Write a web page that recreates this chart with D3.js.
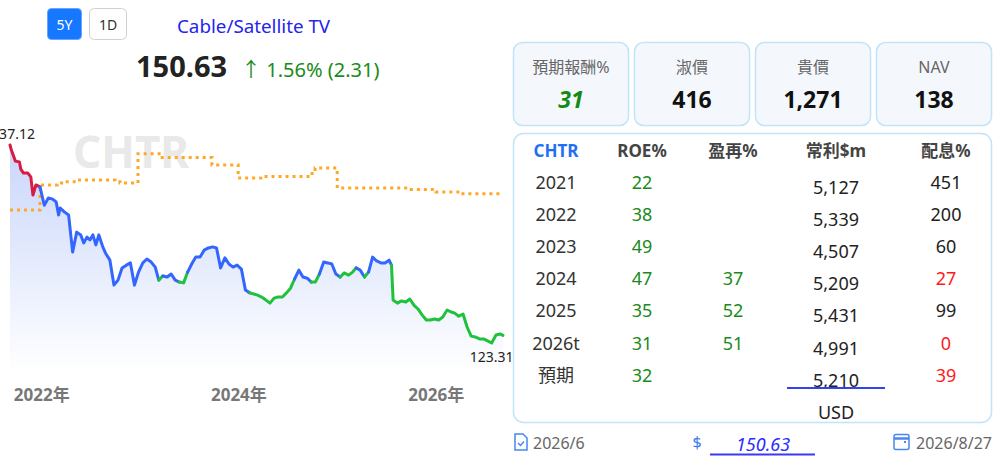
<!DOCTYPE html>
<html>
<head>
<meta charset="utf-8">
<script src="https://cdn.jsdelivr.net/npm/d3@7"></script>
<style>
  body { margin: 0; background: #fff; }
  svg text { font-family: "Noto Sans", "Noto Sans CJK TC", sans-serif; }
</style>
</head>
<body>
<div id="chart"></div>
<script>
// price history (5Y)
var priceDates = ["2021-08-27","2021-09-01","2021-09-16","2021-10-01","2021-10-06","2021-10-16","2021-11-01","2021-11-12","2021-11-20","2021-12-01","2021-12-16",
  "2022-01-01","2022-01-16","2022-02-01","2022-02-14","2022-02-23","2022-03-01","2022-03-16","2022-04-01","2022-04-16","2022-05-01","2022-05-16",
  "2022-05-27","2022-06-08","2022-06-19","2022-06-30","2022-07-11","2022-07-22","2022-08-06","2022-08-16","2022-09-01","2022-09-16","2022-10-01","2022-10-16",
  "2022-11-01","2022-11-16","2022-12-01","2022-12-16","2023-01-01","2023-01-16","2023-02-01","2023-02-16","2023-03-01","2023-03-16",
  "2023-04-01","2023-04-16","2023-05-01","2023-05-16","2023-06-01","2023-06-16","2023-07-01","2023-07-16","2023-08-01","2023-08-16",
  "2023-09-01","2023-09-16","2023-10-01","2023-10-16","2023-11-01","2023-11-16","2023-12-01","2023-12-16","2024-01-01","2024-01-16",
  "2024-02-01","2024-02-16","2024-03-01","2024-03-16","2024-04-01","2024-04-16","2024-05-01","2024-05-16","2024-06-01","2024-06-16",
  "2024-07-01","2024-07-16","2024-08-01","2024-08-16","2024-09-01","2024-09-16","2024-10-01","2024-10-16","2024-11-01","2024-11-16",
  "2024-12-01","2024-12-16","2025-01-01","2025-01-16","2025-02-01","2025-02-16","2025-03-01","2025-03-16","2025-04-01","2025-04-16",
  "2025-05-01","2025-05-16","2025-06-01","2025-06-16","2025-07-01","2025-07-10","2025-07-16","2025-08-01","2025-08-16","2025-09-01",
  "2025-09-16","2025-10-01","2025-10-16","2025-11-01","2025-11-16","2025-12-01","2025-12-16","2026-01-01","2026-01-16","2026-02-01",
  "2026-02-16","2026-03-01","2026-03-16","2026-04-01","2026-04-16","2026-05-01","2026-05-16","2026-06-01","2026-06-16","2026-07-01",
  "2026-07-16","2026-08-01","2026-08-16","2026-08-27"];
var priceValues = [837.12,819,779,776,750,736,736,722,657,693,686,
  620,646,642,632,585,610,596,585,451,523,513,
  484,505,495,513,477,513,469,447,422,332,350,394,
  404,412,332,379,412,426,415,397,350,365,
  361,372,350,343,340,379,408,433,433,458,
  466,470,466,394,430,408,397,404,390,314,
  304,300,296,289,278,267,285,289,289,304,
  321,354,386,361,357,343,343,372,415,412,
  408,372,361,376,368,379,394,386,361,379,
  433,419,412,412,422,404,278,267,275,271,
  282,260,246,224,206,206,210,206,217,242,
  235,231,220,228,181,148,145,138,138,131,
  123.31,152,156,150.63];

// line colour spans [from, to) : up = above value line, low = cheap zone
var spanFrom = ["2021-08-27","2023-03-01","2023-05-16","2024-02-01","2024-09-16","2025-01-01","2025-04-01","2025-07-10"];
var spanTo   = ["2021-12-16","2023-03-16","2023-06-16","2024-07-16","2024-10-16","2025-03-01","2025-04-16","2026-08-28"];
var spanKind = ["up","low","low","low","low","low","low","low"];

// dotted value line (steps)
var fairDates = ["2021-08-27","2021-12-16","2022-02-18","2022-03-14","2022-05-05","2022-09-20","2022-10-08","2022-12-14","2023-03-08",
  "2023-09-14","2023-12-20","2024-03-13","2024-09-19","2024-09-30","2024-12-21","2025-09-21","2025-12-22","2026-03-24","2026-08-27"];
var fairValues = [603,693,700,705,711,705,700,806,792,765,718,724,743,754,682,677,668,661,661];

var axisYears = ["2022-01-01","2024-01-01","2026-01-01"];

// panel data
var statLabels = ["預期報酬%","淑價","貴價","NAV"];
var statValues = ["31","416","1,271","138"];
var tableHead = ["CHTR","ROE%","盈再%","常利$m","配息%"];
var tableYears = ["2021","2022","2023","2024","2025","2026t","預期"];
var roeValues = [22,38,49,47,35,31,32];
var reinvestValues = [null,null,null,37,52,51,null];
var profitValues = [5127,5339,4507,5209,5431,4991,5210];
var payoutValues = [451,200,60,27,99,0,39];

var parse = d3.timeParse("%Y-%m-%d");
var data = priceDates.map(function (d, i) { return { date: parse(d), value: priceValues[i] }; });
var fair = fairDates.map(function (d, i) { return { date: parse(d), value: fairValues[i] }; });

var colors = { up: "#d81b45", mid: "#3366ff", low: "#1fc23c" };
function kindOf(date) {
  for (var i = 0; i < spanFrom.length; i++) {
    if (date >= parse(spanFrom[i]) && date < parse(spanTo[i])) return spanKind[i];
  }
  return "mid";
}

var svg = d3.select("#chart").append("svg")
  .attr("width", 1002).attr("height", 462);

// ---- header
svg.append("rect").attr("x", 47.5).attr("y", 8.5).attr("width", 34).attr("height", 31).attr("rx", 4)
  .attr("fill", "#1677ff").attr("stroke", "#6aa2ff");
svg.append("text").attr("x", 64.5).attr("y", 29.5).attr("text-anchor", "middle")
  .attr("font-size", 14).attr("fill", "#fff").text("5Y");
svg.append("rect").attr("x", 89.5).attr("y", 8.5).attr("width", 37).attr("height", 31).attr("rx", 5)
  .attr("fill", "#fff").attr("stroke", "#d0d0d0");
svg.append("text").attr("x", 108).attr("y", 29.5).attr("text-anchor", "middle")
  .attr("font-size", 14).attr("fill", "#333").text("1D");
svg.append("text").attr("x", 177).attr("y", 33).attr("font-size", 18.8).attr("fill", "#2424f0")
  .text("Cable/Satellite TV");
svg.append("text").attr("x", 136).attr("y", 77).attr("font-size", 29).attr("font-weight", "bold")
  .attr("fill", "#222").text("150.63");
svg.append("text").attr("x", 241).attr("y", 77).attr("font-size", 20).attr("fill", "#1a8a1a")
  .text("↑ 1.56% (2.31)");

// ---- price chart
var x = d3.scaleTime().domain([parse("2021-08-27"), parse("2026-08-27")]).range([10, 503]);
var y = d3.scaleLinear().domain([123.31, 837.12]).range([343, 145]);
var base = 372;

var defs = svg.append("defs");
var grad = defs.append("linearGradient").attr("id", "fillGrad")
  .attr("gradientUnits", "userSpaceOnUse").attr("x1", 0).attr("x2", 0).attr("y1", 145).attr("y2", base);
grad.append("stop").attr("offset", "0%").attr("stop-color", "#c9d6fb");
grad.append("stop").attr("offset", "100%").attr("stop-color", "#ffffff");

svg.append("text").attr("x", 73).attr("y", 168).attr("font-size", 44).attr("font-weight", "bold")
  .attr("fill", "#e9e9e9").text("CHTR");

svg.append("path").datum(data)
  .attr("fill", "url(#fillGrad)")
  .attr("d", d3.area().x(function (d) { return x(d.date); }).y0(base).y1(function (d) { return y(d.value); }));

svg.append("path").datum(fair)
  .attr("fill", "none").attr("stroke", "#ffa726").attr("stroke-width", 3).attr("stroke-dasharray", "3 4")
  .attr("d", d3.line().curve(d3.curveStepAfter).x(function (d) { return x(d.date); }).y(function (d) { return y(d.value); }));

// split into runs of the same colour
var runs = [];
for (var i = 0; i < data.length - 1; i++) {
  var k = kindOf(data[i].date);
  if (!runs.length || runs[runs.length - 1].kind !== k) runs.push({ kind: k, pts: [data[i]] });
  runs[runs.length - 1].pts.push(data[i + 1]);
}
var line = d3.line().x(function (d) { return x(d.date); }).y(function (d) { return y(d.value); });
svg.append("g").selectAll("path").data(runs).enter().append("path")
  .attr("fill", "none")
  .attr("stroke", function (d) { return colors[d.kind]; })
  .attr("stroke-width", 3).attr("stroke-linejoin", "round").attr("stroke-linecap", "round")
  .attr("d", function (d) { return line(d.pts); });

var maxPt = data[d3.maxIndex(data, function (d) { return d.value; })];
var minPt = data[d3.minIndex(data, function (d) { return d.value; })];
svg.append("text").attr("x", x(maxPt.date) + 3).attr("y", 139).attr("text-anchor", "middle")
  .attr("font-size", 14).attr("fill", "#222").text(d3.format(".2f")(maxPt.value));
svg.append("text").attr("x", x(minPt.date)).attr("y", 362).attr("text-anchor", "middle")
  .attr("font-size", 14).attr("fill", "#222").text(d3.format(".2f")(minPt.value));

var xAxis = svg.append("g").attr("transform", "translate(0,388)")
  .call(d3.axisBottom(x).tickValues(axisYears.map(parse)).tickSize(0).tickFormat(d3.timeFormat("%Y年")));
xAxis.select(".domain").remove();
xAxis.selectAll("text").attr("font-family", null).attr("font-size", 17).attr("font-weight", "bold")
  .attr("fill", "#777").attr("y", 13).attr("dy", 0).attr("dx", -3);

// ---- stat cards
var cardX = [513, 634, 755, 876];
var cards = svg.append("g").selectAll("g").data(statLabels).enter().append("g")
  .attr("transform", function (d, i) { return "translate(" + cardX[i] + ",42)"; });
cards.append("rect").attr("x", 0.5).attr("y", 0.5).attr("width", 115).attr("height", 83).attr("rx", 9)
  .attr("fill", "#f4f8fd").attr("stroke", "#c2e4f8").attr("stroke-width", 1.5);
cards.append("text").attr("x", 58).attr("y", 31).attr("text-anchor", "middle")
  .attr("font-size", 16).attr("fill", "#666").text(function (d) { return d; });
cards.append("text").attr("x", 58).attr("y", 66).attr("text-anchor", "middle")
  .attr("font-size", 23).attr("font-weight", "bold")
  .attr("font-style", function (d, i) { return i === 0 ? "italic" : null; })
  .attr("fill", function (d, i) { return i === 0 ? "#138a13" : "#111"; })
  .text(function (d, i) { return statValues[i]; });

// ---- table card
svg.append("rect").attr("x", 513.5).attr("y", 133.5).attr("width", 478).attr("height", 289).attr("rx", 10)
  .attr("fill", "#fff").attr("stroke", "#c2e4f8").attr("stroke-width", 1.5);
var colX = [556, 642, 733, 836, 946];
svg.append("g").selectAll("text").data(tableHead).enter().append("text")
  .attr("x", function (d, i) { return colX[i]; }).attr("y", 157).attr("text-anchor", "middle")
  .attr("font-size", 17).attr("font-weight", "bold")
  .attr("fill", function (d, i) { return i === 0 ? "#1f6ff5" : "#444"; })
  .text(function (d) { return d; });

var rowY = function (i) { return 188.5 + i * 32.2; };
var fmt = d3.format(",");
var rows = svg.append("g").selectAll("g").data(tableYears).enter().append("g");
rows.append("text").attr("x", colX[0]).attr("y", function (d, i) { return rowY(i); })
  .attr("text-anchor", "middle").attr("font-size", 18).attr("fill", "#333").text(function (d) { return d; });
rows.append("text").attr("x", colX[1]).attr("y", function (d, i) { return rowY(i); })
  .attr("text-anchor", "middle").attr("font-size", 18).attr("fill", "#1a8a1a")
  .text(function (d, i) { return roeValues[i]; });
rows.append("text").attr("x", colX[2]).attr("y", function (d, i) { return rowY(i); })
  .attr("text-anchor", "middle").attr("font-size", 18).attr("fill", "#1a8a1a")
  .text(function (d, i) { return reinvestValues[i] == null ? "" : reinvestValues[i]; });
rows.append("text").attr("x", colX[3]).attr("y", function (d, i) { return rowY(i) + 5; })
  .attr("text-anchor", "middle").attr("font-size", 18).attr("fill", "#222")
  .text(function (d, i) { return fmt(profitValues[i]); });
rows.append("text").attr("x", colX[4]).attr("y", function (d, i) { return rowY(i); })
  .attr("text-anchor", "middle").attr("font-size", 18)
  .attr("fill", function (d, i) { return payoutValues[i] < 50 ? "#ff1a1a" : "#222"; })
  .text(function (d, i) { return payoutValues[i]; });

svg.append("line").attr("x1", 787).attr("x2", 885).attr("y1", 388).attr("y2", 388)
  .attr("stroke", "#3344ee").attr("stroke-width", 2);
svg.append("text").attr("x", 836).attr("y", 419).attr("text-anchor", "middle")
  .attr("font-size", 18).attr("fill", "#222").text("USD");

// ---- footer
var doc = svg.append("g").attr("transform", "translate(514,433)").attr("fill", "none")
  .attr("stroke", "#4a86f0").attr("stroke-width", 1.5);
doc.append("path").attr("d", "M1,1 H9 L13,5 V17 H1 Z");
doc.append("path").attr("d", "M4,10 L6.5,12.5 L10,8.5");
svg.append("text").attr("x", 533).attr("y", 449).attr("font-size", 16).attr("fill", "#666").text("2026/6");

svg.append("text").attr("x", 697).attr("y", 448).attr("text-anchor", "middle")
  .attr("font-size", 16).attr("fill", "#3a7bf0").text("$");
svg.append("text").attr("x", 763).attr("y", 451).attr("text-anchor", "middle")
  .attr("font-size", 18).attr("font-style", "italic").attr("fill", "#2a2aff").text("150.63");
svg.append("line").attr("x1", 710).attr("x2", 815).attr("y1", 454.5).attr("y2", 454.5)
  .attr("stroke", "#3a3af0").attr("stroke-width", 2);

var cal = svg.append("g").attr("transform", "translate(893,433)").attr("fill", "none")
  .attr("stroke", "#4a86f0").attr("stroke-width", 1.5);
cal.append("rect").attr("x", 1).attr("y", 1.5).attr("width", 15).attr("height", 15).attr("rx", 2);
cal.append("line").attr("x1", 1).attr("x2", 16).attr("y1", 5.5).attr("y2", 5.5).attr("stroke-width", 2.5);
cal.append("rect").attr("x", 11).attr("y", 8).attr("width", 2).attr("height", 2).attr("fill", "#4a86f0").attr("stroke", "none");
svg.append("text").attr("x", 992).attr("y", 449).attr("text-anchor", "end").attr("font-size", 16)
  .attr("fill", "#666").text("2026/8/27");
</script>
</body>
</html>
